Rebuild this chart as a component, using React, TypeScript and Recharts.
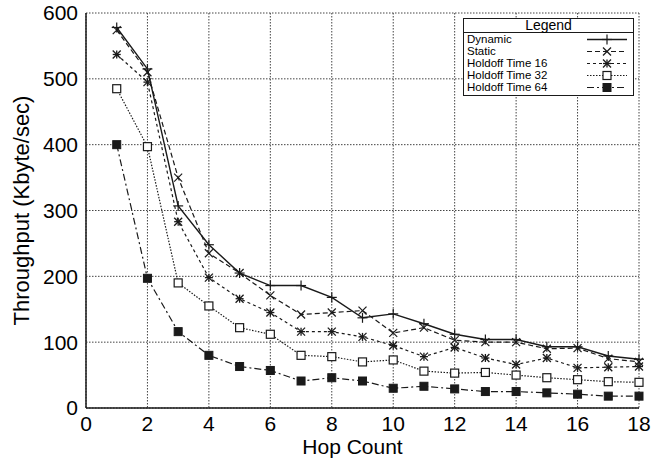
import { LineChart, Line, XAxis, YAxis, CartesianGrid, Legend } from "recharts";

const hops = [1, 2, 3, 4, 5, 6, 7, 8, 9, 10, 11, 12, 13, 14, 15, 16, 17, 18];
const dynamicVals = [578, 515, 307, 248, 205, 186, 186, 168, 137, 143, 128, 112, 104, 104, 93, 93, 79, 74];
const staticVals = [574, 510, 350, 235, 205, 171, 142, 145, 148, 114, 122, 103, 100, 100, 90, 91, 75, 70];
const holdoff16 = [537, 495, 283, 198, 166, 145, 116, 116, 108, 95, 78, 92, 76, 66, 76, 61, 62, 63];
const holdoff32 = [485, 397, 190, 155, 122, 112, 80, 78, 70, 73, 56, 53, 54, 50, 46, 43, 40, 39];
const holdoff64 = [400, 197, 116, 80, 63, 57, 41, 46, 41, 30, 33, 29, 25, 25, 23, 21, 18, 18];
const xTicks = [0, 2, 4, 6, 8, 10, 12, 14, 16, 18];
const yTicks = [0, 100, 200, 300, 400, 500, 600];

const data = hops.map((h, i) => ({
  hop: h,
  dyn: dynamicVals[i],
  sta: staticVals[i],
  h16: holdoff16[i],
  h32: holdoff32[i],
  h64: holdoff64[i],
}));

const ink = "#1a1a1a";
const font = "'Liberation Sans', Arial, sans-serif";

type Marker = "plus" | "cross" | "star" | "openSq" | "fillSq";

function drawMarker(kind: Marker, cx: number, cy: number, key?: string) {
  const s = 4;
  if (kind === "plus")
    return (
      <g key={key} stroke={ink} strokeWidth={1.2}>
        <line x1={cx - s - 1} y1={cy} x2={cx + s + 1} y2={cy} />
        <line x1={cx} y1={cy - s - 1} x2={cx} y2={cy + s + 1} />
      </g>
    );
  if (kind === "cross")
    return (
      <g key={key} stroke={ink} strokeWidth={1.2}>
        <line x1={cx - s} y1={cy - s} x2={cx + s} y2={cy + s} />
        <line x1={cx - s} y1={cy + s} x2={cx + s} y2={cy - s} />
      </g>
    );
  if (kind === "star")
    return (
      <g key={key} stroke={ink} strokeWidth={1.3}>
        <line x1={cx - s} y1={cy - s} x2={cx + s} y2={cy + s} />
        <line x1={cx - s} y1={cy + s} x2={cx + s} y2={cy - s} />
        <line x1={cx - s} y1={cy} x2={cx + s} y2={cy} />
        <line x1={cx} y1={cy - s} x2={cx} y2={cy + s} />
      </g>
    );
  if (kind === "openSq")
    return <rect key={key} x={cx - 4} y={cy - 4} width={8} height={8} fill="#fff" stroke={ink} strokeWidth={1.2} />;
  return <rect key={key} x={cx - 4} y={cy - 4} width={8} height={8} fill={ink} stroke={ink} />;
}

const series = [
  { key: "dyn", name: "Dynamic", marker: "plus" as Marker, dash: undefined, width: 1.4 },
  { key: "sta", name: "Static", marker: "cross" as Marker, dash: "5 3", width: 1.2 },
  { key: "h16", name: "Holdoff Time 16", marker: "star" as Marker, dash: "3 3", width: 1.2 },
  { key: "h32", name: "Holdoff Time 32", marker: "openSq" as Marker, dash: "1.5 1.5", width: 1.2 },
  { key: "h64", name: "Holdoff Time 64", marker: "fillSq" as Marker, dash: "7 3 2 3", width: 1.2 },
];

function LegendBox() {
  return (
    <div
      style={{
        width: 169,
        border: `1.5px solid ${ink}`,
        background: "#fff",
        fontFamily: font,
        color: "#000",
        paddingBottom: 2,
      }}
    >
      <div style={{ textAlign: "center", fontSize: 14, lineHeight: "13px", borderBottom: `1.5px solid ${ink}` }}>Legend</div>
      {series.map((s) => (
        <div key={s.key} style={{ display: "flex", alignItems: "center", height: 12, fontSize: 11.5, paddingLeft: 3 }}>
          <span style={{ flex: 1, lineHeight: "12px" }}>{s.name}</span>
          <svg width={40} height={11} style={{ marginRight: 6 }}>
            <line x1={0} y1={5.5} x2={40} y2={5.5} stroke={ink} strokeWidth={s.width} strokeDasharray={s.dash} />
            {drawMarker(s.marker, 20, 5.5)}
          </svg>
        </div>
      ))}
    </div>
  );
}

export default function App() {
  return (
    <div style={{ position: "absolute", left: 0, top: 0, background: "#fff" }}>
      <LineChart width={652} height={467} data={data} margin={{ top: 13, right: 13, left: 0, bottom: 0 }}>
        <CartesianGrid stroke="#444" strokeDasharray="1.5 1.5" strokeWidth={1} />
        <XAxis xAxisId="tb" dataKey="hop" type="number" domain={[0, 18]} ticks={xTicks} orientation="bottom" mirror height={0} tick={false} axisLine={false} tickLine={{ stroke: ink }} tickSize={6} />
        <YAxis yAxisId="tl" type="number" domain={[0, 600]} ticks={yTicks} orientation="left" mirror width={0} tick={false} axisLine={false} tickLine={{ stroke: ink }} tickSize={6} />
        <XAxis
          dataKey="hop"
          type="number"
          domain={[0, 18]}
          ticks={xTicks}
          height={59}
          axisLine={{ stroke: ink, strokeWidth: 1.5 }}
          tickLine={false}
          tick={{ fill: "#000", fontSize: 21, fontFamily: font }}
          label={{ value: "Hop Count", position: "center", dy: 9, dx: -10, fill: "#000", fontSize: 21, fontFamily: font }}
        />
        <YAxis
          type="number"
          domain={[0, 600]}
          ticks={yTicks}
          width={86}
          axisLine={{ stroke: ink, strokeWidth: 1.5 }}
          tickLine={false}
          tick={{ fill: "#000", fontSize: 21, fontFamily: font }}
          label={{ value: "Throughput (Kbyte/sec)", angle: -90, position: "center", dx: -22, fill: "#000", fontSize: 22, fontFamily: font }}
        />
        <XAxis xAxisId="top" dataKey="hop" type="number" domain={[0, 18]} ticks={xTicks} orientation="top" mirror height={0} tick={false} axisLine={{ stroke: ink, strokeWidth: 1.5 }} tickLine={{ stroke: ink }} tickSize={6} />
        <YAxis yAxisId="right" type="number" domain={[0, 600]} ticks={yTicks} orientation="right" mirror width={0} tick={false} axisLine={{ stroke: ink, strokeWidth: 1.5 }} tickLine={{ stroke: ink }} tickSize={6} />
        {series.map((s) => (
          <Line
            key={s.key}
            dataKey={s.key}
            name={s.name}
            type="linear"
            stroke={ink}
            strokeWidth={s.width}
            strokeDasharray={s.dash}
            isAnimationActive={false}
            dot={(p: any) => drawMarker(s.marker, p.cx, p.cy, `${s.key}-${p.index}`)}
            activeDot={false}
          />
        ))}
        <Legend
          layout="vertical"
          align="center"
          verticalAlign="middle"
          content={() => <LegendBox />}
          wrapperStyle={{ position: "absolute", top: 18, left: 463, width: 172 }}
        />
      </LineChart>
    </div>
  );
}
